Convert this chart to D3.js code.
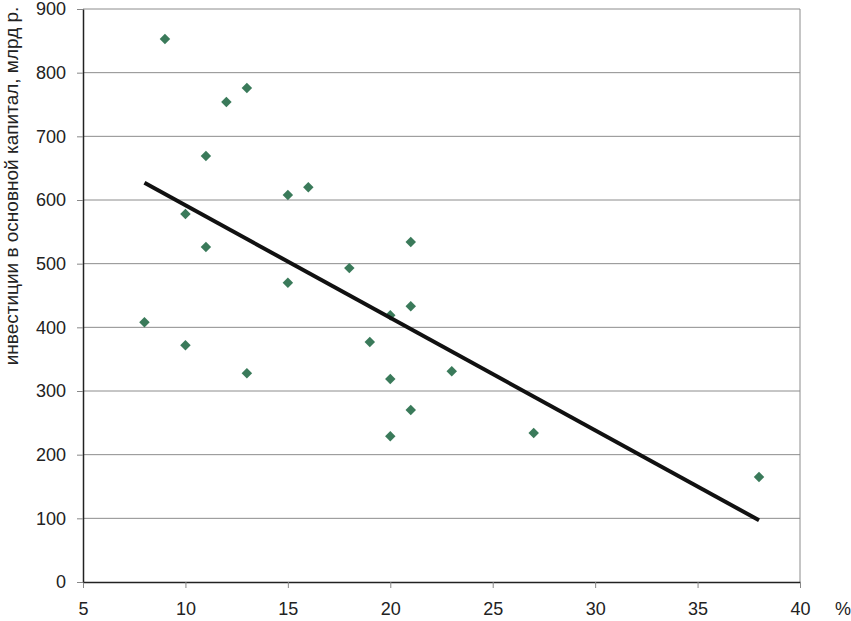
<!DOCTYPE html>
<html lang="ru">
<head>
<meta charset="UTF-8">
<title>Инвестиции в основной капитал</title>
<script src="https://d3js.org/d3.v7.min.js"></script>
<style>
body { margin: 0; background: #fff; font-family: "Liberation Sans", Arial, sans-serif; }
.tick text { font-family: "Liberation Sans", Arial, sans-serif; font-size: 18px; fill: #222; }
</style>
</head>
<body>
<div id="chart"></div>
<script>
// data: x = %, y = investment, bln rub
var xVals = [9, 12, 13, 11, 15, 16, 10, 11, 21, 18, 15, 21, 20, 8, 10, 19, 13, 20, 23, 21, 20, 27, 38];
var yVals = [853, 754, 776, 669, 608, 620, 578, 526, 534, 493, 470, 433, 419, 408, 372, 377, 328, 319, 331, 270, 229, 234, 165];
// trend line end points
var trendX = [8, 38];
var trendY = [627, 97];
var xTicks = [5, 10, 15, 20, 25, 30, 35, 40];
var yTicks = [0, 100, 200, 300, 400, 500, 600, 700, 800, 900];

var margin = {top: 9, right: 51, bottom: 39, left: 83},
    width = 851 - margin.left - margin.right,
    height = 621 - margin.top - margin.bottom;

var svg = d3.select("#chart")
  .append("svg")
    .attr("width", 851)
    .attr("height", 621)
  .append("g")
    .attr("transform", "translate(" + margin.left + "," + margin.top + ")");

var x = d3.scaleLinear().domain([5, 40]).range([0, width]);
var y = d3.scaleLinear().domain([0, 900]).range([height, 0]);

// grid lines
svg.append("g")
  .selectAll("line")
  .data(yTicks.filter(function(d) { return d > 0; }))
  .enter()
  .append("line")
    .attr("x1", 0)
    .attr("x2", width)
    .attr("y1", function(d) { return y(d); })
    .attr("y2", function(d) { return y(d); })
    .style("stroke", "#8c8c8c")
    .style("stroke-width", 1);

// right border
svg.append("line")
  .attr("x1", width).attr("x2", width)
  .attr("y1", 0).attr("y2", height)
  .style("stroke", "#8c8c8c");

// axes
var xAxis = svg.append("g")
  .attr("transform", "translate(0," + height + ")")
  .call(d3.axisBottom(x).tickValues(xTicks).tickSize(6).tickPadding(14).tickSizeOuter(0));
var yAxis = svg.append("g")
  .call(d3.axisLeft(y).tickValues(yTicks).tickSize(6).tickPadding(11).tickSizeOuter(0));
xAxis.select(".domain").style("stroke", "#222").style("stroke-width", 1.5);
yAxis.select(".domain").style("stroke", "#222").style("stroke-width", 1.5);
xAxis.selectAll(".tick line").style("stroke", "#888");
yAxis.selectAll(".tick line").style("stroke", "#888");

// points
var points = xVals.map(function(d, i) { return {x: d, y: yVals[i]}; });
svg.append("g")
  .selectAll("path")
  .data(points)
  .enter()
  .append("path")
    .attr("d", d3.symbol().type(d3.symbolDiamond2).size(70))
    .attr("transform", function(d) { return "translate(" + x(d.x) + "," + y(d.y) + ")"; })
    .style("fill", "#3a7a5a");

// trend line
svg.append("line")
  .attr("x1", x(trendX[0])).attr("y1", y(trendY[0]))
  .attr("x2", x(trendX[1])).attr("y2", y(trendY[1]))
  .style("stroke", "#111")
  .style("stroke-width", 4);

// axis labels
svg.append("text")
  .attr("transform", "rotate(-90)")
  .attr("x", -177)
  .attr("y", -65)
  .style("text-anchor", "middle")
  .style("font-size", "19px")
  .style("fill", "#222")
  .text("инвестиции в основной капитал, млрд р.");

svg.append("text")
  .attr("x", width + 43)
  .attr("y", height + 33)
  .style("text-anchor", "middle")
  .style("font-size", "18px")
  .style("fill", "#222")
  .text("%");
</script>
</body>
</html>
